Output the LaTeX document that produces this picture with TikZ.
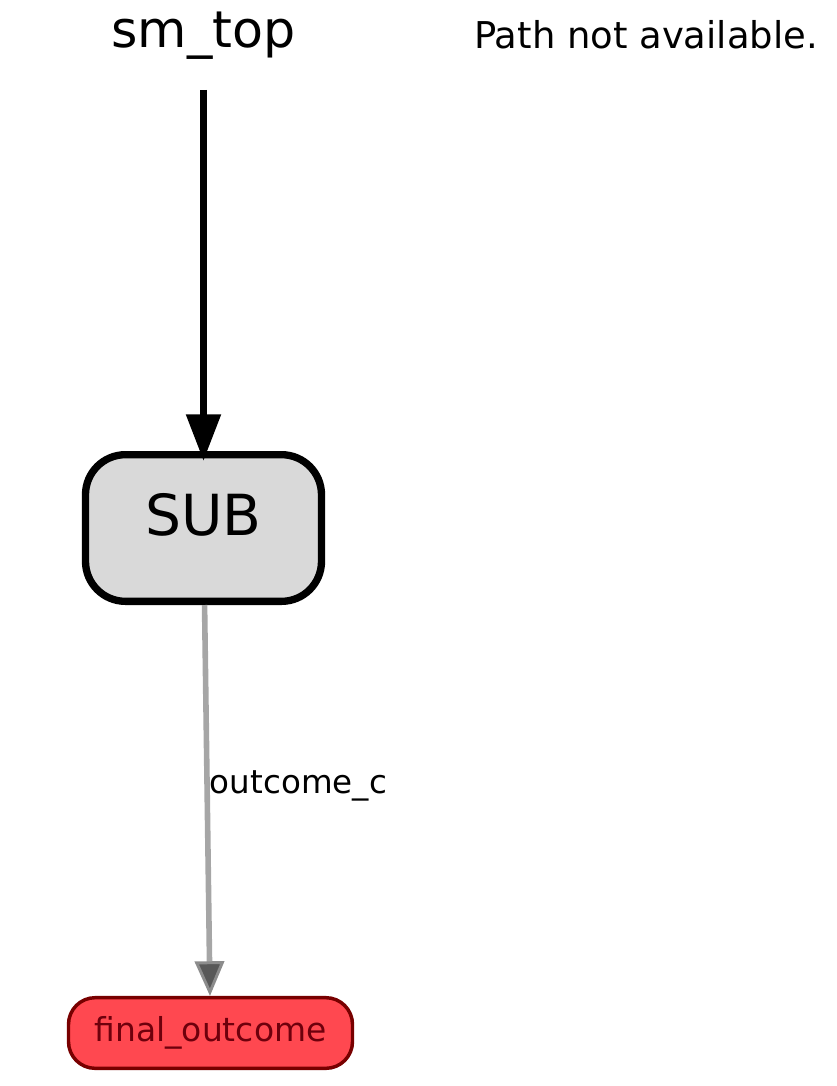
\documentclass[tikz,border=0pt]{standalone}
\usepackage{fontspec}
\setmainfont{DejaVu Sans}
\usepackage{xcolor}
\usetikzlibrary{arrows.meta}

\definecolor{subfill}{RGB}{217,217,217}
\definecolor{finalfill}{RGB}{255,72,80}
\definecolor{finaldraw}{RGB}{120,0,0}
\definecolor{finaltext}{RGB}{110,0,12}
\definecolor{edgegray}{RGB}{166,166,166}
\definecolor{tipgray}{RGB}{88,88,88}
\definecolor{tipedge}{RGB}{140,140,140}

\begin{document}
\begin{tikzpicture}[
    x=0.75pt, y=-0.75pt,
    title/.style={inner sep=0pt, font=\fontsize{38pt}{40pt}\selectfont},
    note/.style={inner sep=0pt, font=\fontsize{27.7pt}{30pt}\selectfont},
    state/.style={rectangle, draw, line width=5.5pt, fill=subfill, rounded corners=30pt, minimum width=177pt, minimum height=110pt, inner sep=0pt, text depth=20pt, font=\fontsize{42.5pt}{44pt}\selectfont},
    outcome/.style={rectangle, draw=finaldraw, line width=2.6pt, fill=finalfill, text=finaltext, rounded corners=20pt, minimum width=213pt, minimum height=53pt, inner sep=0pt, font=\fontsize{24.7pt}{26pt}\selectfont},
    edgelabel/.style={inner sep=0pt, font=\fontsize{24.4pt}{26pt}\selectfont}
]
\useasboundingbox (0,0) rectangle (836,1086);

\node [title, anchor=base] (smtop) at (203.5,47) {sm\_top};
\node [note, anchor=base west] (pathnote) at (474,48) {Path not available.};
\node [state] (sub) at (203.5,528) {SUB};
\node [outcome] (final) at (210.5,1033) {final\_outcome};

\draw [line width=5.5pt, -{Triangle[length=35pt,width=25pt]}, shorten <=23pt, shorten >=-7.5pt] (smtop) -- (sub);
\draw [edgegray, line width=4.2pt, -{Triangle[length=26pt,width=22pt,line width=2.2pt,fill=tipgray,color=tipedge]}] (sub) -- node[edgelabel, pos=0.483, anchor=base west, text=black] {outcome\_c} (final);

\end{tikzpicture}
\end{document}
